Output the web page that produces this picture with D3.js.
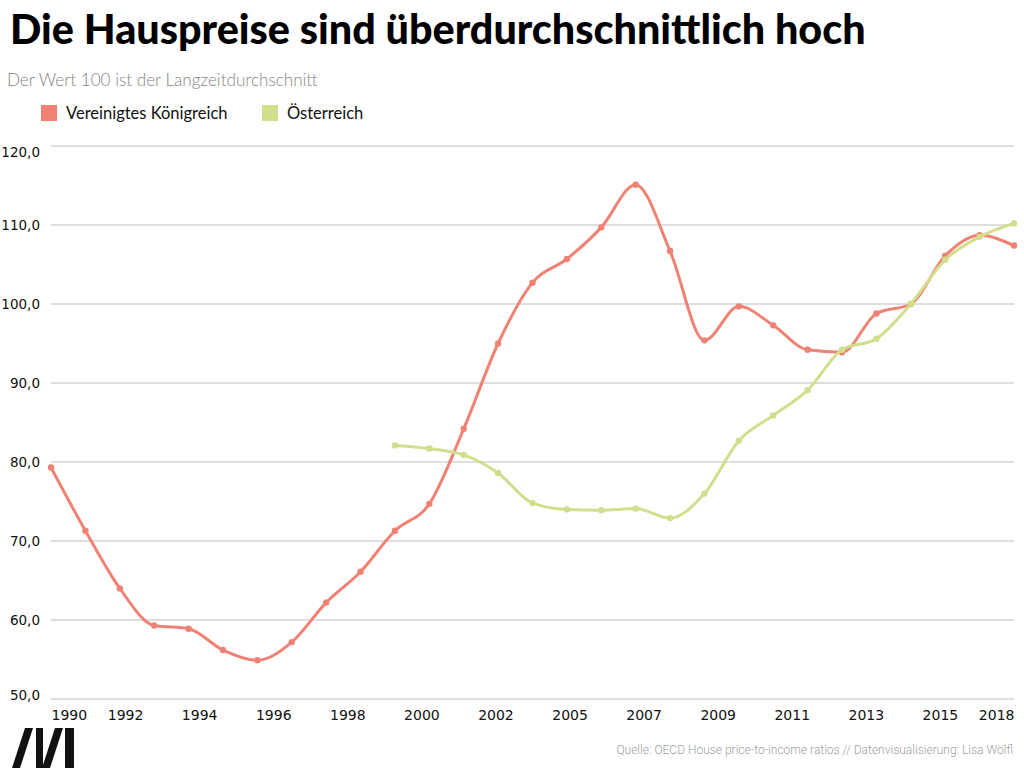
<!DOCTYPE html>
<html>
<head>
<meta charset="utf-8">
<script src="https://cdn.jsdelivr.net/npm/d3@7"></script>
<style>
  html, body { margin: 0; padding: 0; background: #fff; }
  svg { display: block; }
  text { font-family: Lato, "Noto Sans", sans-serif; }
</style>
</head>
<body>
<svg id="chart" width="1024" height="768"></svg>
<script>
// ---- Data ----
const years = [1990,1991,1992,1993,1994,1995,1996,1997,1998,1999,2000,2001,2002,2003,2004,2005,2006,2007,2008,2009,2010,2011,2012,2013,2014,2015,2016,2017,2018];
const ukValues = [79.3,71.3,64.0,59.3,58.9,56.2,54.9,57.2,62.2,66.1,71.3,74.7,84.2,95.0,102.7,105.7,109.7,115.1,106.7,95.4,99.7,97.3,94.2,93.9,98.8,100.0,106.1,108.7,107.4];
const atYears = [2000,2001,2002,2003,2004,2005,2006,2007,2008,2009,2010,2011,2012,2013,2014,2015,2016,2017,2018];
const atValues = [82.1,81.7,80.9,78.6,74.8,74.0,73.9,74.1,72.9,76.0,82.7,85.9,89.1,94.2,95.6,100.0,105.6,108.5,110.2];
const xTickLabels = ["1990","1992","1994","1996","1998","2000","2002","2005","2007","2009","2011","2013","2015","2018"];
const yTicks = [50,60,70,80,90,100,110,120];
const seriesNames = ["Vereinigtes Königreich","Österreich"];
const seriesColors = ["#f08274","#d2de8c"];
const title = "Die Hauspreise sind überdurchschnittlich hoch";
const subtitle = "Der Wert 100 ist der Langzeitdurchschnitt";
const source = "Quelle: OECD House price-to-income ratios // Datenvisualisierung: Lisa Wölfl";

// ---- Layout ----
const svg = d3.select("#chart");
const plotLeft = 51, plotRight = 1014, plotTop = 146, plotBottom = 699;

const x = d3.scaleLinear().domain([d3.min(years), d3.max(years)]).range([plotLeft, plotRight]);
const y = d3.scaleLinear().domain([50, 120]).range([plotBottom, plotTop]);
const xLab = d3.scalePoint().domain(xTickLabels).range([plotLeft, plotRight]);

function fitText(sel, width) {
  const w = sel.node().getComputedTextLength();
  const fs = parseFloat(sel.attr("font-size"));
  sel.attr("font-size", fs * width / w);
}

// Title
const t = svg.append("text").attr("x", 10).attr("y", 44)
  .attr("font-size", 40).attr("font-weight", 900).attr("fill", "#000")
  .text(title);
fitText(t, 856);

const st = svg.append("text").attr("x", 7).attr("y", 86)
  .attr("font-size", 16).attr("font-weight", 300).attr("fill", "#858585")
  .text(subtitle);
fitText(st, 311);

// Legend
const legendX = [41, 262];
seriesNames.forEach((name, i) => {
  const g = svg.append("g").attr("transform", `translate(${legendX[i]},105)`);
  g.append("rect").attr("width", 16).attr("height", 16).attr("fill", seriesColors[i]);
  g.append("text").attr("x", 25).attr("y", 14)
    .attr("font-size", 16.5).attr("fill", "#111").text(name);
});

// Gridlines
svg.append("g").selectAll("line").data(yTicks).join("line")
  .attr("x1", plotLeft).attr("x2", plotRight)
  .attr("y1", d => y(d)).attr("y2", d => y(d))
  .attr("stroke", "#bdbdbd").attr("stroke-width", 1);

// Y axis labels
const fmt = d => d3.format(".1f")(d).replace(".", ",");
const yAxis = svg.append("g").attr("transform", `translate(${plotLeft},0)`)
  .call(d3.axisLeft(y).tickValues(yTicks).tickFormat(fmt).tickSize(0).tickPadding(11));
yAxis.select(".domain").remove();
yAxis.selectAll("text").attr("font-size", 13.5).attr("fill", "#111")
  .style("font-family", "'DejaVu Sans', sans-serif")
  .attr("dy", d => d === 120 ? "0.75em" : d === 50 ? "0" : "0.32em");

// X axis labels
const xAxis = svg.append("g").attr("transform", `translate(0,${plotBottom})`)
  .call(d3.axisBottom(xLab).tickSize(0).tickPadding(11));
xAxis.select(".domain").remove();
xAxis.selectAll("text").attr("font-size", 14).attr("fill", "#111")
  .style("font-family", "'DejaVu Sans', sans-serif")
  .attr("text-anchor", (d, i) => i === 0 ? "start" : i === xTickLabels.length - 1 ? "end" : "middle");

// Lines
const line = d3.line().x(d => x(d[0])).y(d => y(d[1])).curve(d3.curveMonotoneX);
const series = [
  years.map((yr, i) => [yr, ukValues[i]]),
  atYears.map((yr, i) => [yr, atValues[i]])
];
[0, 1].forEach(i => {
  const g = svg.append("g");
  g.append("path").datum(series[i]).attr("d", line)
    .attr("fill", "none").attr("stroke", seriesColors[i]).attr("stroke-width", 3)
    .attr("stroke-linejoin", "round").attr("stroke-linecap", "round");
  g.selectAll("circle").data(series[i]).join("circle")
    .attr("cx", d => x(d[0])).attr("cy", d => y(d[1])).attr("r", 3.2)
    .attr("fill", seriesColors[i]);
});

// Source
svg.append("text").attr("x", 1013).attr("y", 754).attr("text-anchor", "end")
  .attr("font-size", 12).attr("fill", "#a0a0a0")
  .style("font-family", "Roboto, sans-serif")
  .attr("font-weight", 300)
  .text(source);

// Logo
const logo = svg.append("g").attr("fill", "#111");
const logoPolys = [
  [[25,728],[33,728],[20,768],[12,768]],
  [[36,728],[43,728],[43,768],[36,768]],
  [[55,728],[63,728],[50,768],[42,768]],
  [[65,728],[74,728],[74,768],[65,768]]
];
logo.selectAll("polygon").data(logoPolys).join("polygon")
  .attr("points", d => d.map(p => p.join(",")).join(" "));
</script>
</body>
</html>
